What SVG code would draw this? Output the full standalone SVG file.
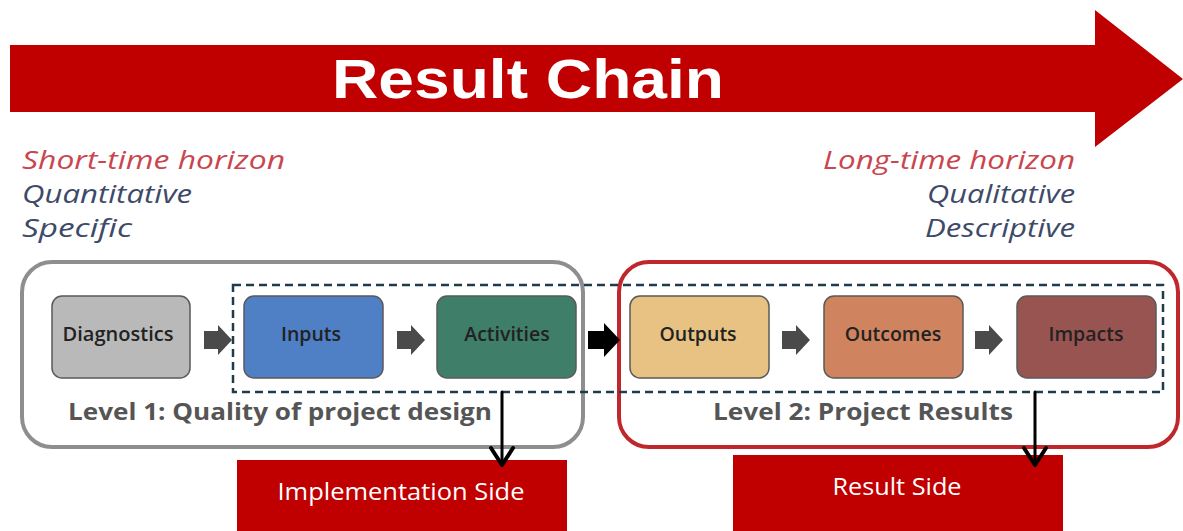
<svg xmlns="http://www.w3.org/2000/svg" width="1183" height="531" viewBox="0 0 1183 531">
<style>
.hz{font-family:"Open Sans","Noto Sans",sans-serif;font-style:italic;font-size:25px}
.red{fill:#c9464f}
.blu{fill:#3e4a68}
.node rect{stroke:#5a5a5a;stroke-width:1.5}
.node text{font-family:"Open Sans","Liberation Sans",sans-serif;font-weight:600;font-size:19.5px;fill:#222;text-anchor:middle}
.lvl{font-family:"Open Sans","Liberation Sans",sans-serif;font-weight:700;font-size:23px;fill:#555}
.blk{fill:#4a4a4a}
.side{font-family:"Open Sans","Liberation Sans",sans-serif;font-size:23px;fill:#fff;text-anchor:middle}
</style>
<rect width="1183" height="531" fill="#fff"/>
<g id="banner">
<path d="M10,45 H1095 V10 L1183,79 L1095,147 V112 H10 Z" fill="#c00000"/>
<text x="528" y="98" font-family="Liberation Sans,Arial,sans-serif" font-weight="700" font-size="55" fill="#fff" text-anchor="middle" textLength="392" lengthAdjust="spacingAndGlyphs">Result Chain</text>
</g>
<g id="left-notes">
<text class="hz red" x="22" y="169" textLength="263" lengthAdjust="spacingAndGlyphs">Short-time horizon</text>
<text class="hz blu" x="22" y="203" textLength="170" lengthAdjust="spacingAndGlyphs">Quantitative</text>
<text class="hz blu" x="22" y="237" textLength="110" lengthAdjust="spacingAndGlyphs">Specific</text>
</g>
<g id="right-notes">
<text class="hz red" x="1075" y="169" text-anchor="end" textLength="252" lengthAdjust="spacingAndGlyphs">Long-time horizon</text>
<text class="hz blu" x="1075" y="203" text-anchor="end" textLength="148" lengthAdjust="spacingAndGlyphs">Qualitative</text>
<text class="hz blu" x="1075" y="237" text-anchor="end" textLength="150" lengthAdjust="spacingAndGlyphs">Descriptive</text>
</g>
<g id="level1">
<rect x="22" y="262" width="561" height="185" rx="30" fill="none" stroke="#8e8e8e" stroke-width="4"/>
<text class="lvl" x="68" y="420" textLength="424" lengthAdjust="spacingAndGlyphs">Level 1: Quality of project design</text>
</g>
<g id="level2">
<rect x="619" y="262" width="559" height="185" rx="30" fill="none" stroke="#c0272d" stroke-width="4"/>
<text class="lvl" x="713" y="420" textLength="300" lengthAdjust="spacingAndGlyphs">Level 2: Project Results</text>
</g>
<g id="dashed-frame">
<rect x="233" y="285" width="930" height="107" fill="none" stroke="#1e3c4e" stroke-width="2.5" stroke-dasharray="8,5"/>
</g>
<g id="diagnostics" class="node"><rect x="52" y="296" width="138" height="82" rx="10" fill="#b9b9b9"/><text x="118" y="341" textLength="111" lengthAdjust="spacingAndGlyphs">Diagnostics</text></g>
<g id="inputs" class="node"><rect x="244" y="296" width="139" height="82" rx="10" fill="#4f7fc4"/><text x="311" y="341">Inputs</text></g>
<g id="activities" class="node"><rect x="437" y="296" width="139" height="82" rx="10" fill="#3f7e68"/><text x="507" y="341">Activities</text></g>
<g id="outputs" class="node"><rect x="630" y="296" width="139" height="82" rx="10" fill="#e8c282"/><text x="698" y="341">Outputs</text></g>
<g id="outcomes" class="node"><rect x="824" y="296" width="139" height="82" rx="10" fill="#cf845f"/><text x="893" y="341">Outcomes</text></g>
<g id="impacts" class="node"><rect x="1017" y="296" width="139" height="82" rx="10" fill="#985450"/><text x="1086" y="341">Impacts</text></g>
<g id="implementation-side"><rect x="237" y="460" width="330" height="71" fill="#c00000"/><text class="side" x="401" y="500" textLength="247" lengthAdjust="spacingAndGlyphs">Implementation Side</text></g>
<g id="result-side"><rect x="733" y="455" width="330" height="76" fill="#c00000"/><text class="side" x="897" y="495" textLength="129" lengthAdjust="spacingAndGlyphs">Result Side</text></g>
<g id="connectors">
<path class="blk" d="M204,331 H218 V325 L232,340 L218,355 V349 H204 Z"/>
<path class="blk" d="M397,331 H411 V325 L425,340 L411,355 V349 H397 Z"/>
<path fill="#000" d="M588,331 H604 V323 L620,340 L604,357 V349 H588 Z"/>
<path class="blk" d="M782,331 H796 V325 L810,340 L796,355 V349 H782 Z"/>
<path class="blk" d="M975,331 H989 V325 L1003,340 L989,355 V349 H975 Z"/>
<g stroke="#000" fill="none" stroke-linecap="round" stroke-linejoin="round">
<line x1="502" y1="392" x2="502" y2="465" stroke-width="3"/>
<path d="M491,448 L502,465 L513,448" stroke-width="4"/>
<line x1="1035" y1="392" x2="1035" y2="465" stroke-width="3"/>
<path d="M1024,448 L1035,465 L1046,448" stroke-width="4"/>
</g>
</g>
</svg>
